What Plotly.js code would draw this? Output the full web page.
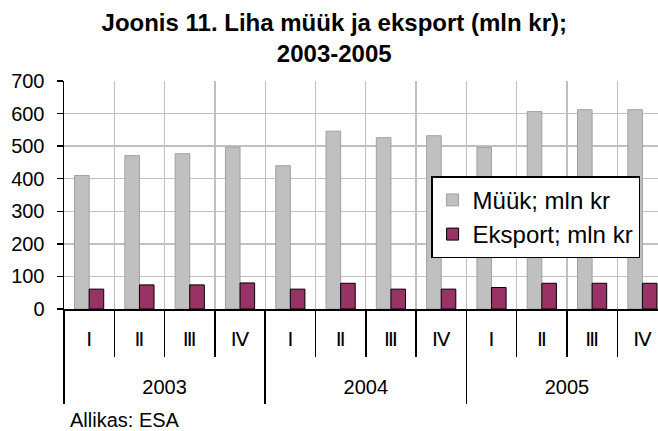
<!DOCTYPE html>
<html>
<head>
<meta charset="utf-8">
<script src="https://cdn.plot.ly/plotly-3.0.1.min.js"></script>
<style>html,body{margin:0;padding:0;background:#fff;}#chart{width:658px;height:431px;}</style>
</head>
<body>
<div id="chart"></div>
<script>
const years = ['2003', '2004', '2005'];
const quarters = ['Ⅰ', 'Ⅱ', 'Ⅲ', 'Ⅳ'];
const muuk = [410, 471, 477, 497, 440, 546, 526, 532, 496, 606, 612, 612];
const eksport = [61, 74, 74, 80, 61, 79, 61, 61, 66, 79, 79, 79];
const seriesNames = ['Müük; mln kr', 'Eksport; mln kr'];
const titleText = 'Joonis 11. Liha müük ja eksport (mln kr);<br>2003-2005';
const sourceText = 'Allikas: ESA';

// build category keys and label arrays from the data arrays
const xCats = [], xQuarterLabels = [];
years.forEach(y => quarters.forEach(q => { xCats.push(y + ' ' + q); xQuarterLabels.push(q); }));
const nQ = quarters.length;
const boundaries = xCats.map((_, i) => i - 0.5).concat([xCats.length - 0.5]);
const yearCenters = years.map((_, i) => i * nQ + (nQ - 1) / 2);
const yearBounds = years.map((_, i) => i * nQ - 0.5).concat([years.length * nQ - 0.5]);
const xRange = [-0.5, 11.31];

const FONT = 'Liberation Sans, Arial, DejaVu Sans, sans-serif';

// empty helper traces so that the overlay axes (ticks, dividers, year labels) get drawn
const helper = ax => ({type: 'scatter', mode: 'markers', x: [], y: [], xaxis: ax, yaxis: 'y',
                       showlegend: false, hoverinfo: 'skip'});

const traces = [
  {type: 'bar', name: seriesNames[0], x: xCats, y: muuk,
   marker: {color: '#c0c0c0', line: {color: '#a0a0a0', width: 1}}},
  {type: 'bar', name: seriesNames[1], x: xCats, y: eksport,
   marker: {color: '#993366', line: {color: '#000000', width: 1}}},
  helper('x2'), helper('x3'), helper('x4')
];

const layout = {
  width: 658, height: 431,
  margin: {l: 64, r: 0, t: 81, b: 121.5},
  paper_bgcolor: '#ffffff', plot_bgcolor: '#ffffff',
  font: {family: FONT, size: 20, color: '#000'},
  barmode: 'group', bargap: 0.42, bargroupgap: 0,
  title: {text: titleText, font: {family: FONT, size: 24, color: '#000', weight: 'bold'},
          x: 0.508, xanchor: 'center', y: 0.928, yanchor: 'top', yref: 'container'},
  xaxis: {type: 'category', categoryarray: xCats, categoryorder: 'array', range: xRange,
          tickvals: xCats, ticktext: xQuarterLabels,
          showgrid: true, gridcolor: '#c0c0c0', gridwidth: 1.3, tickson: 'boundaries',
          ticks: '', ticklabelstandoff: 11,
          showline: true, linecolor: '#000', linewidth: 1.5,
          tickfont: {family: FONT, size: 20, color: '#000'}},
  xaxis2: {overlaying: 'x', anchor: 'y', side: 'bottom', type: 'linear', range: xRange,
           tickmode: 'array', tickvals: boundaries, showticklabels: false,
           ticks: 'outside', ticklen: 47, tickwidth: 1.5, tickcolor: '#000',
           showgrid: false, zeroline: false, showline: false},
  xaxis3: {overlaying: 'x', anchor: 'y', side: 'bottom', type: 'linear', range: xRange,
           tickmode: 'array', tickvals: yearCenters, ticktext: years, ticks: '',
           ticklabelstandoff: 64, showgrid: false, zeroline: false, showline: false,
           tickfont: {family: FONT, size: 20, color: '#000'}},
  xaxis4: {overlaying: 'x', anchor: 'y', side: 'bottom', type: 'linear', range: xRange,
           tickmode: 'array', tickvals: yearBounds, showticklabels: false,
           ticks: 'outside', ticklen: 94, tickwidth: 1.5, tickcolor: '#000',
           showgrid: false, zeroline: false, showline: false},
  yaxis: {range: [0, 700], dtick: 100, showgrid: true, gridcolor: '#c0c0c0', gridwidth: 1.3,
          ticks: 'outside', ticklen: 6, tickwidth: 1.5, tickcolor: '#000', ticklabelstandoff: 8,
          showline: true, linecolor: '#000', linewidth: 1.5, zeroline: false,
          tickfont: {family: FONT, size: 20, color: '#000'}},
  legend: {x: 0.618, y: 0.582, xanchor: 'left', yanchor: 'top',
           bgcolor: '#ffffff', bordercolor: '#000', borderwidth: 1.5,
           entrywidth: 178, entrywidthmode: 'pixels',
           font: {family: FONT, size: 24, color: '#000'}},
  showlegend: true,
  annotations: [{text: sourceText, xref: 'paper', yref: 'paper', x: 0.007, y: -0.488,
                 xanchor: 'left', yanchor: 'middle', showarrow: false,
                 font: {family: FONT, size: 20, color: '#000'}}]
};

Plotly.newPlot('chart', traces, layout, {displayModeBar: false, staticPlot: true});
</script>
</body>
</html>
